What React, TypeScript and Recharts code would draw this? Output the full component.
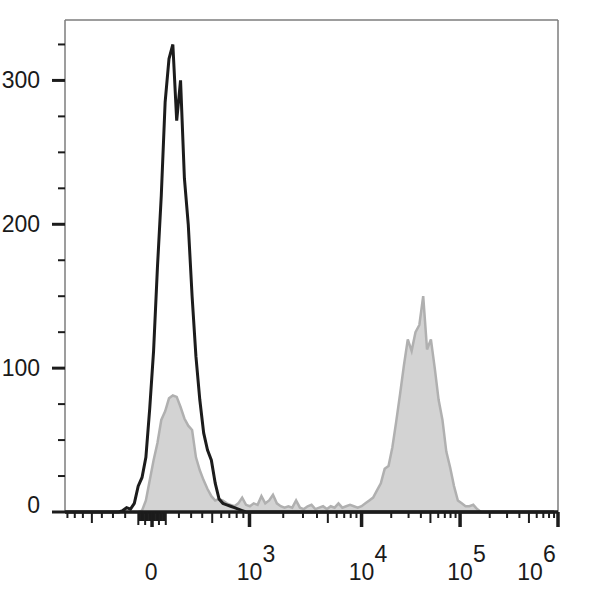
import React from "react";
import { Area, ComposedChart, Line, ReferenceLine, XAxis, YAxis } from "recharts";

// Histogram overlay on a 256-channel biexponential display scale.
// Each bin covers 2 channels; counts.

const BIN_WIDTH = 2;
const CHANNEL_MAX = 256;
const Y_MAX = 342;

// filled gray histogram (two populations)
const GRAY_COUNTS = [
  0, 0, 0, 0, 0, 0, 0, 0, 0, 0, 0, 0, 0, 0, 0, 0, 0, 0, 0, 0,
  1, 8, 22, 36, 48, 64, 70, 79, 81, 80, 73, 65, 60, 57, 38, 29, 22, 16, 11, 8,
  9, 8, 6, 5, 4, 6, 10, 5, 4, 6, 5, 11, 6, 8, 12, 6, 4, 3, 4, 3,
  8, 3, 2, 4, 5, 2, 3, 4, 2, 4, 3, 6, 3, 4, 5, 4, 3, 4, 6, 8,
  10, 15, 20, 30, 32, 45, 63, 82, 102, 120, 112, 125, 130, 150, 113, 120, 100, 78, 64, 42,
  31, 18, 8, 6, 4, 4, 5, 2, 0, 0, 0, 0, 0, 0, 0, 0, 0, 0, 0, 0,
  0, 0, 0, 0, 0, 0, 0, 0,
];

// black outline histogram (single negative population)
const BLACK_COUNTS = [
  0, 0, 0, 0, 0, 0, 0, 0, 0, 0, 0, 0, 0, 0, 0, 1, 3, 2, 6, 18,
  24, 38, 72, 112, 170, 220, 285, 315, 325, 272, 300, 232, 200, 150, 108, 78, 55, 43, 36, 20,
  9, 6, 5, 4, 3, 2, 1, 0, 0, 0, 0, 0, 0, 0, 0, 0, 0, 0, 0, 0,
  0, 0, 0, 0, 0, 0, 0, 0, 0, 0, 0, 0, 0, 0, 0, 0, 0, 0, 0, 0,
  0, 0, 0, 0, 0, 0, 0, 0, 0, 0, 0, 0, 0, 0, 0, 0, 0, 0, 0, 0,
  0, 0, 0, 0, 0, 0, 0, 0, 0, 0, 0, 0, 0, 0, 0, 0, 0, 0, 0, 0,
  0, 0, 0, 0, 0, 0, 0, 0,
];

const Y_TICKS = [0, 25, 50, 75, 100, 125, 150, 175, 200, 225, 250, 275, 300, 325];
const LINEAR_TICKS = [-800, -700, -600, -500, -400, -300, -200, -100, 100, 200, 300, 400, 500, 600, 700, 800, 900];
const DECADES = [3, 4, 5, 6];

const TEXT = "#1a1a1a";
const FRAME = "#7d7d7d";
const GRAY_FILL = "#d3d3d3";
const GRAY_STROKE = "#b0b0b0";
const BLACK = "#1c1c1c";
const FONT = "'Liberation Sans', Arial, sans-serif";

// biexponential-ish display transform: value -> channel
const ZERO_CH = 45.2;
const LIN_A = 33.75;
const LIN_C = 470;
const CH_1E3 = ZERO_CH + LIN_A * Math.asinh(1000 / LIN_C);
function toChannel(v: number) {
  if (Math.abs(v) <= 1000) return ZERO_CH + LIN_A * Math.asinh(v / LIN_C);
  if (v <= 1e4) return CH_1E3 + 58.2 * Math.log10(v / 1000);
  return CH_1E3 + 58.2 + 51.15 * Math.log10(v / 1e4);
}

interface XTickDef {
  ch: number;
  len: number;
  w: number;
  label?: string;
  exp?: string;
}

function buildXTicks(): XTickDef[] {
  const out: XTickDef[] = [];
  for (let v = -90; v <= 90; v += 10) {
    if (v === 0) out.push({ ch: toChannel(0), len: 15, w: 3.5, label: "0" });
    else out.push({ ch: toChannel(v), len: v % 50 === 0 ? 13 : 9, w: 2 });
  }
  LINEAR_TICKS.forEach((v) => {
    const ch = toChannel(v);
    if (ch >= 0) out.push({ ch, len: Math.abs(v) === 500 ? 11 : Math.abs(v) === 100 ? 13 : 6, w: 2 });
  });
  DECADES.forEach((d) => {
    const base = Math.pow(10, d);
    out.push({ ch: Math.min(toChannel(base), CHANNEL_MAX), len: 15, w: 3.5, label: "10", exp: String(d) });
    if (d < 6) {
      for (let m = 2; m <= 9; m++) {
        out.push({ ch: toChannel(m * base), len: m === 5 ? 11 : 6, w: 2 });
      }
    }
  });
  return out.sort((a, b) => a.ch - b.ch);
}

const X_TICKS = buildXTicks();

const rows = GRAY_COUNTS.map((g, i) => ({
  ch: i * BIN_WIDTH,
  gray: g,
  black: BLACK_COUNTS[i],
}));

function renderXTick(props: any) {
  const { x, y, payload } = props;
  const t = X_TICKS.find((d) => Math.abs(d.ch - payload.value) < 1e-9);
  if (!t) return <g />;
  const shift = t.exp === "6" ? -28 : t.label === "0" ? -1 : 0;
  return (
    <g>
      <line x1={x} x2={x} y1={y} y2={y + t.len} stroke={BLACK} strokeWidth={t.w} />
      {t.label && (
        <text x={x + shift} y={y + 68} textAnchor="middle" fontSize={23} fontFamily={FONT} fill={TEXT}>
          {t.label}
        </text>
      )}
      {t.exp && (
        <text x={x + shift + 13} y={y + 50} textAnchor="start" fontSize={23} fontFamily={FONT} fill={TEXT}>
          {t.exp}
        </text>
      )}
    </g>
  );
}

function renderYTick(props: any) {
  const { x, y, payload } = props;
  const v = payload.value as number;
  const major = v % 100 === 0;
  return (
    <g>
      <line x1={x - (major ? 13 : 7)} x2={x} y1={y} y2={y} stroke={BLACK} strokeWidth={major ? 3 : 2} />
      {major && (
        <text x={x - 25} y={y + 8 - (v === 0 ? 7 : 0)} textAnchor="end" fontSize={23} fontFamily={FONT} fill={TEXT}>
          {v}
        </text>
      )}
    </g>
  );
}

export default function App() {
  return (
    <div style={{ width: 600, height: 589, background: "#fff" }}>
      <style>{`body{margin:0;background:#fff}`}</style>
      <ComposedChart width={600} height={589} data={rows} margin={{ top: 20, right: 42, bottom: 0, left: 0 }}>
        <Area
          type="linear"
          dataKey="gray"
          fill={GRAY_FILL}
          fillOpacity={1}
          stroke={GRAY_STROKE}
          strokeWidth={2.5}
          isAnimationActive={false}
        />
        <Line type="linear" dataKey="black" stroke={BLACK} strokeWidth={3} dot={false} isAnimationActive={false} />
        <ReferenceLine y={Y_MAX} stroke={FRAME} strokeWidth={1.5} />
        <ReferenceLine x={CHANNEL_MAX} stroke={FRAME} strokeWidth={1.5} />
        <YAxis
          width={65}
          domain={[0, Y_MAX]}
          ticks={Y_TICKS}
          interval={0}
          tickSize={0}
          tickMargin={0}
          tickLine={false}
          axisLine={{ stroke: FRAME, strokeWidth: 1.5 }}
          tick={renderYTick}
        />
        <XAxis
          dataKey="ch"
          type="number"
          domain={[0, CHANNEL_MAX]}
          ticks={X_TICKS.map((t) => t.ch)}
          interval={0}
          height={77}
          tickSize={0}
          tickMargin={0}
          tickLine={false}
          axisLine={{ stroke: BLACK, strokeWidth: 3.5 }}
          tick={renderXTick}
        />
      </ComposedChart>
    </div>
  );
}
